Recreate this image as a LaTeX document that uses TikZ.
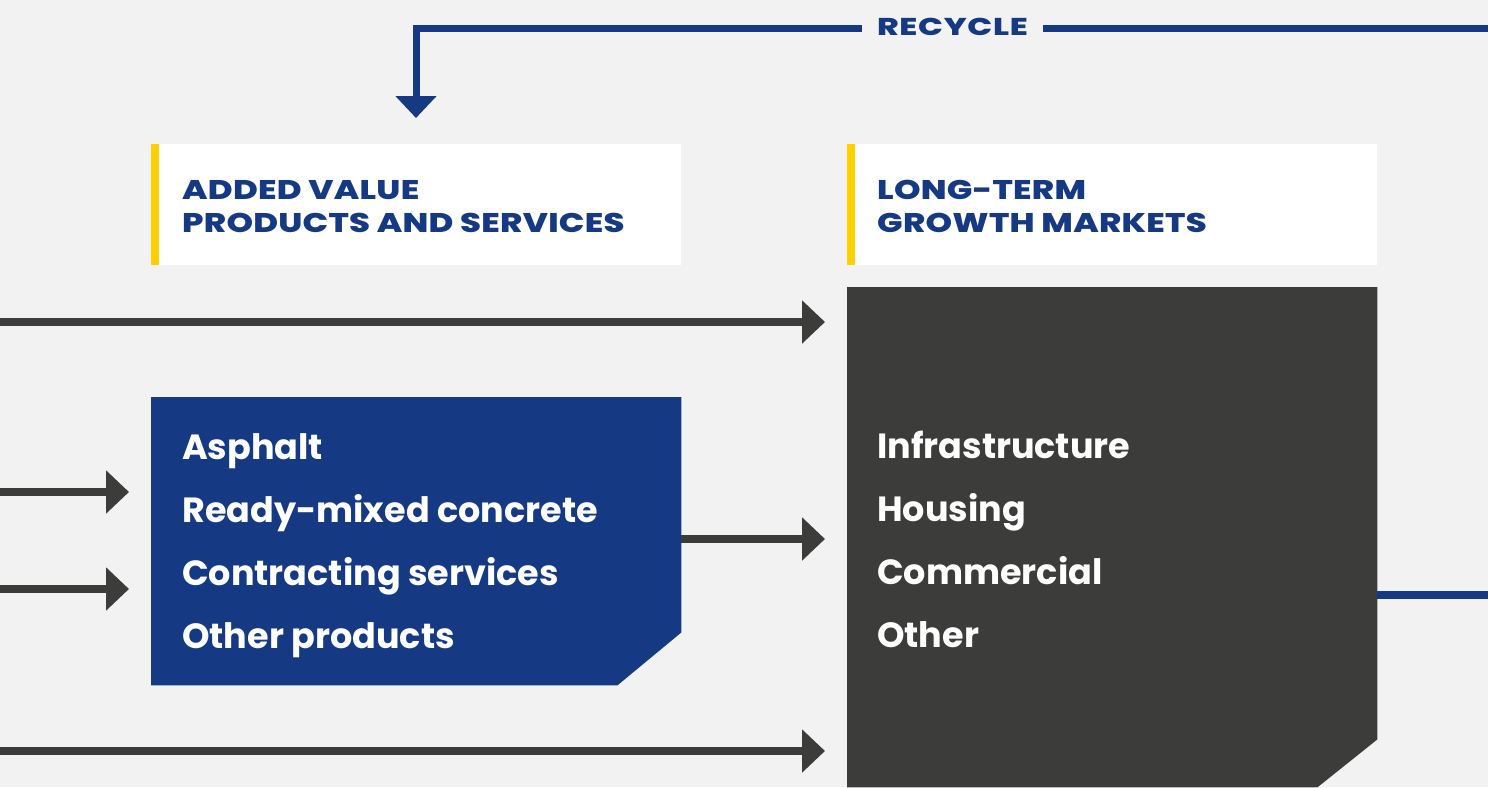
\documentclass[tikz,border=0pt]{standalone}
\usepackage{fontspec}
\setmainfont{Poppins}
\newfontfamily\hdrfont{Poppins}[BoldFont={Poppins ExtraBold},FakeStretch=1.25,LetterSpace=1]
\newfontfamily\recfont{Poppins}[BoldFont={Poppins ExtraBold},FakeStretch=1.35,LetterSpace=3]
\usetikzlibrary{arrows.meta}
\definecolor{bg}{HTML}{F2F2F2}
\definecolor{navy}{HTML}{153A83}
\definecolor{dark}{HTML}{3C3C3B}
\definecolor{gold}{HTML}{FFD000}
\begin{document}
\begin{tikzpicture}[x=1pt,y=-1pt,
  hdrbox/.style={fill=white,draw=none,minimum width=530pt,minimum height=121pt,anchor=north west,inner sep=0pt},
  anchorbox/.style={draw=none,minimum width=530pt,anchor=north west,inner sep=0pt},
  hdrtext/.style={text=navy,font=\hdrfont\fontsize{27}{30}\selectfont\bfseries,anchor=base west,inner sep=0pt},
  itemtext/.style={text=white,font=\fontsize{35}{40}\selectfont\bfseries,anchor=base west,inner sep=0pt},
  flow/.style={draw=dark,line width=8pt,-{Triangle[length=23pt,width=42pt]}},
  recyc/.style={draw=navy,line width=7pt},
]
\useasboundingbox (0,0) rectangle (1488,787);
\fill[bg] (0,0) rectangle (1488,787);

% headers
\node[hdrbox] (hL) at (151,144) {};
\node[hdrbox] (hR) at (847,144) {};
\fill[gold] (hL.north west) rectangle ([xshift=8pt]hL.south west);
\fill[gold] (hR.north west) rectangle ([xshift=8pt]hR.south west);
\node[hdrtext] (hL1) at (182,199) {ADDED VALUE};
\node[hdrtext] (hL2) at (182,232) {PRODUCTS AND SERVICES};
\node[hdrtext] (hR1) at (877,199) {LONG-TERM};
\node[hdrtext] (hR2) at (877,232) {GROWTH MARKETS};

% blue box
\node[anchorbox,minimum height=288pt] (bB) at (151,397) {};
\fill[navy] (bB.north west) -- (bB.north east) -- ([yshift=53pt]bB.south east) -- ([xshift=-64pt]bB.south east) -- (bB.south west) -- cycle;
\node[itemtext] (b1) at (182,459) {Asphalt};
\node[itemtext] (b2) at (182,522) {Ready-mixed concrete};
\node[itemtext] (b3) at (182,585) {Contracting services};
\node[itemtext] (b4) at (182,648) {Other products};

% dark box
\node[anchorbox,minimum height=500pt] (bD) at (847,287) {};
\fill[dark] (bD.north west) -- (bD.north east) -- ([yshift=48pt]bD.south east) -- ([xshift=-60pt]bD.south east) -- (bD.south west) -- cycle;
\node[itemtext] (d1) at (877,458) {Infrastructure};
\node[itemtext] (d2) at (877,521) {Housing};
\node[itemtext] (d3) at (877,584) {Commercial};
\node[itemtext] (d4) at (877,647) {Other};

% input arrows
\coordinate (in1) at (0,322);
\coordinate (in2) at (0,492);
\coordinate (in3) at (0,589);
\coordinate (in4) at (0,751);
\draw[flow] (in1) -- ([xshift=-22pt]bD.west |- in1);
\draw[flow] (in2) -- ([xshift=-22pt]bB.west |- in2);
\draw[flow] (in3) -- ([xshift=-22pt]bB.west |- in3);
\draw[flow] (in4) -- ([xshift=-22pt]bD.west |- in4);
\coordinate (mid) at (681,539);
\draw[flow] (bB.east |- mid) -- ([xshift=-22pt]bD.west |- mid);

% output line
\coordinate (outR) at (1488,595);
\draw[draw=navy,line width=8pt] (bD.east |- outR) -- (outR);

% recycle
\coordinate (recR) at (1488,28);
\coordinate (recL) at (416,28);
\coordinate (recT) at (416,118);
\draw[recyc,-{Triangle[length=22pt,width=40pt]}] (recR) -- (recL) -- (recT);
\node[fill=bg,text=navy,font=\recfont\fontsize{24.3}{28}\selectfont\bfseries,inner xsep=15pt,inner ysep=6pt,anchor=base] (rec) at (952.5,35.5) {RECYCLE};
\end{tikzpicture}
\end{document}
